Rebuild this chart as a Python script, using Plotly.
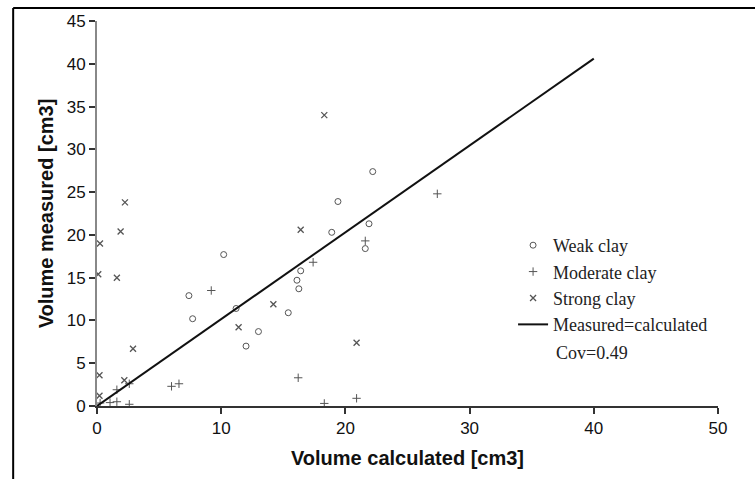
import plotly.graph_objects as go

# Weak clay (circles)
weak_x = [7.4, 7.7, 10.2, 11.2, 13.0, 12.0, 15.4, 16.4, 16.1, 16.25, 22.2, 19.4, 21.9, 18.9, 21.6]
weak_y = [12.9, 10.2, 17.7, 11.4, 8.7, 7.0, 10.9, 15.8, 14.7, 13.7, 27.4, 23.9, 21.3, 20.3, 18.4]

# Moderate clay (+)
mod_x = [27.4, 21.6, 17.4, 9.2, 16.2, 18.3, 20.9, 6.0, 6.6, 2.6, 1.6, 1.6, 1.05, 2.6, 0.25]
mod_y = [24.8, 19.3, 16.8, 13.5, 3.3, 0.3, 0.9, 2.3, 2.6, 2.6, 1.9, 0.5, 0.4, 0.2, 0.35]

# Strong clay (x)
str_x = [2.25, 1.9, 0.24, 0.1, 1.6, 18.3, 16.4, 14.2, 11.4, 20.9, 2.9, 0.2, 0.2, 2.2]
str_y = [23.8, 20.4, 19.0, 15.4, 15.0, 34.0, 20.6, 11.9, 9.2, 7.4, 6.7, 3.6, 1.2, 3.0]

# Measured = calculated line
line_x = [0, 40]
line_y = [0, 40.6]

x_ticks = [0, 10, 20, 30, 40, 50]
y_ticks = [0, 5, 10, 15, 20, 25, 30, 35, 40, 45]

mk_col = "#555555"
legend_font = dict(family="Liberation Serif", size=18, color="#222222")

fig = go.Figure()
fig.add_trace(go.Scatter(x=weak_x, y=weak_y, mode="markers", name="Weak clay",
                         marker=dict(symbol="circle-open", size=6, color=mk_col, line=dict(width=1))))
fig.add_trace(go.Scatter(x=mod_x, y=mod_y, mode="markers", name="Moderate clay",
                         marker=dict(symbol="cross-thin-open", size=6, color=mk_col, line=dict(width=1, color=mk_col))))
fig.add_trace(go.Scatter(x=str_x, y=str_y, mode="markers", name="Strong clay",
                         marker=dict(symbol="x-thin-open", size=6, color=mk_col, line=dict(width=1.3, color=mk_col))))
fig.add_trace(go.Scatter(x=line_x, y=line_y, mode="lines", name="Measured=calculated",
                         line=dict(color="#111111", width=2)))

fig.update_layout(
    width=755, height=479,
    margin=dict(l=97, r=37, t=19, b=73),
    paper_bgcolor="white", plot_bgcolor="white",
    font=dict(family="Liberation Sans, Arial", size=17, color="#111111"),
    showlegend=True,
    legend=dict(x=0.67, y=0.465, xanchor="left", yanchor="top", font=legend_font,
                bgcolor="rgba(0,0,0,0)", tracegroupgap=0, itemwidth=30),
    xaxis=dict(range=[0, 50], tickvals=x_ticks, showgrid=False, zeroline=False,
               showline=True, linecolor="#333333", linewidth=1.5,
               ticks="outside", ticklen=6, tickcolor="#333333", tickwidth=1.5,
               tickfont=dict(size=17, family="Liberation Sans, Arial"),
               title=dict(text="<b>Volume calculated [cm3]</b>", font=dict(size=20), standoff=14)),
    yaxis=dict(range=[0, 45], tickvals=y_ticks, showgrid=False, zeroline=False,
               showline=True, linecolor="#888888", linewidth=2,
               ticks="outside", ticklen=6, tickcolor="#333333", tickwidth=1.5,
               tickfont=dict(size=17, family="Liberation Sans, Arial"),
               title=dict(text="<b>Volume measured [cm3]</b>", font=dict(size=20), standoff=8)),
    annotations=[dict(text="Cov=0.49", x=0.736, y=0.138, xref="paper", yref="paper",
                      xanchor="left", yanchor="middle", showarrow=False, font=legend_font)],
    shapes=[
        dict(type="line", xref="paper", yref="paper", x0=-0.135, x1=1.1, y0=1.0336, y1=1.0336,
             line=dict(color="black", width=2)),
        dict(type="line", xref="paper", yref="paper", x0=-0.135, x1=-0.135, y0=1.0336, y1=-0.3,
             line=dict(color="black", width=2)),
    ],
)

fig.write_html("out.html")
